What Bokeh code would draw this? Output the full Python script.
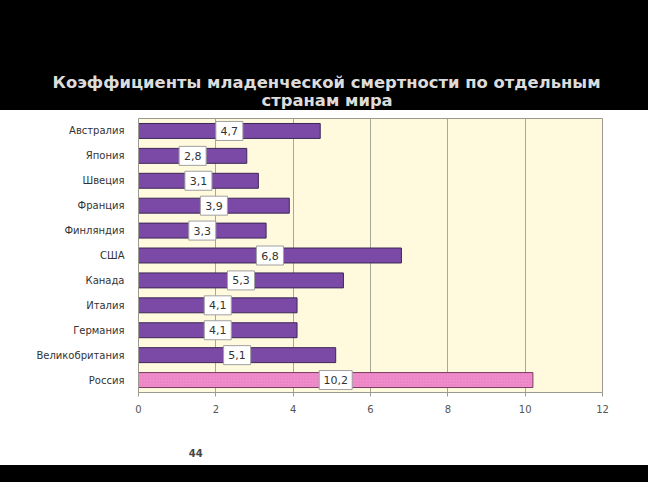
from bokeh.plotting import figure
from bokeh.layouts import column
from bokeh.models import (FactorRange, Range1d, FixedTicker, ColumnDataSource, Title,
                          LinearAxis)
from bokeh.core.properties import value
from bokeh.embed import file_html
from bokeh.resources import INLINE

title_lines = ["Коэффициенты младенческой смертности по отдельным", "странам мира"]
countries = ["Австралия", "Япония", "Швеция", "Франция", "Финляндия", "США",
             "Канада", "Италия", "Германия", "Великобритания", "Россия"]
rates = [4.7, 2.8, 3.1, 3.9, 3.3, 6.8, 5.3, 4.1, 4.1, 5.1, 10.2]
labels = ["4,7", "2,8", "3,1", "3,9", "3,3", "6,8", "5,3", "4,1", "4,1", "5,1", "10,2"]
x_ticks = [0, 2, 4, 6, 8, 10, 12]
page_number = "44"
page_number_x = 1.48

W = 648
FONT = "DejaVu Sans"
BL, BR = 138, 46
HDR_H, MAIN_H, FTR_H = 110, 355, 17

# header
hdr = figure(width=W, height=HDR_H, output_backend="svg", toolbar_location=None,
             x_range=Range1d(0, 12), y_range=Range1d(0, 1),
             min_border_left=BL, min_border_right=BR, min_border_top=0, min_border_bottom=0,
             styles={"background-color": "black"})
hdr.axis.visible = False
hdr.grid.visible = False
hdr.outline_line_color = None
hdr.background_fill_color = "black"
hdr.border_fill_color = "black"
for txt, off, so in zip(title_lines, [-86, 123], [-8, 2]):
    kw = dict(text=txt, align="left", offset=off,
              text_font=FONT, text_font_style="bold",
              text_font_size="16.4px", text_color="#dcdcdc")
    try:
        t = Title(standoff=so, **kw)
    except Exception:
        t = Title(standoff=0, **kw)
    hdr.add_layout(t, "below")

# main chart
factors = list(reversed(countries))
main = figure(width=W, height=MAIN_H, output_backend="svg", toolbar_location=None,
              y_range=FactorRange(factors=factors, range_padding=0),
              x_range=Range1d(0, 12),
              min_border_left=BL, min_border_right=BR,
              min_border_top=8, min_border_bottom=73)
main.background_fill_color = "#fff9de"
main.border_fill_color = "white"
main.outline_line_color = "#9a9a90"

src_p = ColumnDataSource(dict(c=countries[:-1], v=rates[:-1], h=[r / 2 for r in rates[:-1]], l=labels[:-1]))
src_r = ColumnDataSource(dict(c=countries[-1:], v=rates[-1:], h=[r / 2 for r in rates[-1:]], l=labels[-1:]))

main.hbar(y="c", right="v", left=0, height=0.6, source=src_p,
          fill_color="#7b4aa6", line_color="#3c2856", line_width=1)
main.hbar(y="c", right="v", left=0, height=0.6, source=src_r,
          fill_color="#f08ccb", line_color="#7a3c62", line_width=1,
          hatch_pattern="dot", hatch_color="#d870b0", hatch_scale=3, hatch_alpha=0.6)

for src, w in ((src_p, 27), (src_r, 33)):
    main.rect(x="h", y="c", width=w, height=19, width_units="screen", height_units="screen",
              source=src, fill_color="white", line_color="#a0a0a0", line_width=1)
    main.text(x="h", y="c", text="l", source=src, text_font=value(FONT),
              text_font_size="11px", text_color="#333333",
              text_align="center", text_baseline="middle")

main.ygrid.visible = False
main.xgrid.grid_line_color = "#a8a898"
main.xgrid.grid_line_width = 1
main.xaxis.ticker = FixedTicker(ticks=x_ticks)
main.xaxis.axis_line_color = "#9a9a90"
main.xaxis.major_tick_line_color = "#9a9a90"
main.xaxis.major_tick_in = 0
main.xaxis.major_tick_out = 4
main.xaxis.minor_tick_line_color = None
main.xaxis.major_label_text_font = FONT
main.xaxis.major_label_text_font_size = "10px"
main.xaxis.major_label_text_color = "#555555"
main.xaxis.major_label_standoff = 8

main.yaxis.axis_line_color = "#9a9a90"
main.yaxis.major_tick_line_color = None
main.yaxis.major_label_text_font = FONT
main.yaxis.major_label_text_font_size = "10px"
main.yaxis.major_label_text_color = "#333333"
main.yaxis.major_label_standoff = 8

# page number as a secondary axis label
pn_axis = LinearAxis(ticker=FixedTicker(ticks=[page_number_x]),
                     major_label_overrides={page_number_x: page_number},
                     axis_line_color=None, major_tick_line_color=None,
                     minor_tick_line_color=None, major_label_standoff=27,
                     major_label_text_font=FONT, major_label_text_font_size="10px",
                     major_label_text_font_style="bold", major_label_text_color="#444444")
main.add_layout(pn_axis, "below")

# footer
ftr = figure(width=W, height=FTR_H, output_backend="svg", toolbar_location=None,
             x_range=Range1d(0, 1), y_range=Range1d(0, 1),
             min_border_left=BL, min_border_right=BR, min_border_top=0, min_border_bottom=0,
             styles={"background-color": "black"})
ftr.axis.visible = False
ftr.grid.visible = False
ftr.outline_line_color = None
ftr.background_fill_color = "black"
ftr.border_fill_color = "black"

layout = column(hdr, main, ftr, spacing=0)
open("out.html", "w").write(file_html(layout, INLINE))
